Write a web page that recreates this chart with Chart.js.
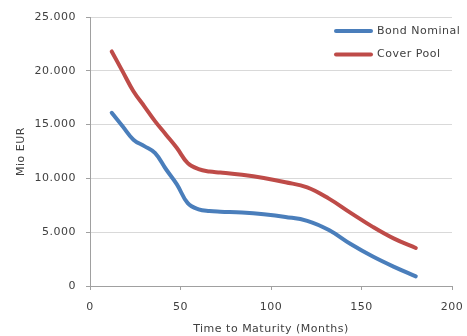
<!DOCTYPE html>
<html>
<head>
<meta charset="utf-8">
<script src="https://cdn.jsdelivr.net/npm/chart.js@4"></script>
<style>
    body { margin: 0; background: #ffffff; }
    #wrap { width: 467px; height: 336px; }
</style>
</head>
<body>
<div id="wrap"><canvas id="myChart"></canvas></div>
<script>
// months to maturity and outstanding amounts (Mio EUR)
const months = [12, 18, 24, 30, 36, 42, 48, 54, 60, 66, 72, 84, 96, 108, 120, 132, 144, 156, 168, 180];
const bondNominal = [16100, 14850, 13600, 13000, 12350, 10850, 9450, 7700, 7130, 6970, 6910, 6830, 6670, 6420, 6060, 5200, 3900, 2760, 1780, 900];
const coverPool = [21800, 19950, 18100, 16700, 15300, 14060, 12820, 11420, 10860, 10640, 10550, 10330, 10030, 9640, 9170, 8120, 6800, 5520, 4400, 3530];
const seriesNames = ["Bond Nominal", "Cover Pool"];
const xTitle = "Time to Maturity (Months)";
const yTitle = "Mio EUR";

const textColor = "#404040";
const axisColor = "#a0a0a0";
const fontFamily = "'DejaVu Sans', Verdana, sans-serif";

function toPoints(xs, ys)
{
    return xs.map((x, i) => ({ x: x, y: ys[i] }));
}

// 25000 -> "25.000"
function formatThousands(v)
{
    return String(v).replace(/\B(?=(\d{3})+(?!\d))/g, ".");
}

// excel style legend drawn inside the plot area, top right
const insideLegend = {
    id: "insideLegend",
    afterDraw(chart)
    {
        const ctx = chart.ctx;
        ctx.save();
        ctx.font = "11px " + fontFamily;
        ctx.textBaseline = "middle";
        ctx.textAlign = "left";
        chart.data.datasets.forEach((ds, i) =>
        {
            const y = 31 + i * 23.5;
            ctx.strokeStyle = ds.borderColor;
            ctx.lineWidth = 4;
            ctx.lineCap = "round";
            ctx.beginPath();
            ctx.moveTo(336, y);
            ctx.lineTo(371, y);
            ctx.stroke();
            ctx.fillStyle = textColor;
            ctx.fillText(ds.label, 377, y);
        });
        ctx.restore();
    }
};

// a bit of tracking like the original text rendering
const tracking = {
    id: "tracking",
    beforeDraw(chart)
    {
        chart.ctx.letterSpacing = "0.5px";
    }
};

function createGraph()
{
    const ctx = document.getElementById("myChart");

    const data = {
        datasets: [
            {
                label: seriesNames[0],
                data: toPoints(months, bondNominal),
                borderColor: "#4a7ebb",
                borderWidth: 4,
                borderCapStyle: "round",
                pointRadius: 0,
                tension: 0.4,
                fill: false
            },
            {
                label: seriesNames[1],
                data: toPoints(months, coverPool),
                borderColor: "#be4b48",
                borderWidth: 4,
                borderCapStyle: "round",
                pointRadius: 0,
                tension: 0.4,
                fill: false
            }
        ]
    };

    new Chart(ctx, {
        type: "line",
        data: data,
        options: {
            responsive: true,
            maintainAspectRatio: false,
            animation: false,
            devicePixelRatio: 1,
            layout: { padding: { left: 14, right: 15, top: 17, bottom: 0 } },
            font: { family: fontFamily, size: 11 },
            color: textColor,
            plugins: {
                legend: { display: false },
                tooltip: { enabled: false }
            },
            scales: {
                x: {
                    type: "linear",
                    min: 0,
                    max: 200,
                    ticks: { stepSize: 50, color: textColor, padding: 11, font: { family: fontFamily, size: 11 } },
                    grid: { drawOnChartArea: false, tickLength: 4, tickColor: axisColor },
                    border: { color: axisColor, width: 1 },
                    title: { display: true, text: xTitle, color: textColor, padding: { top: 0, bottom: 0 }, font: { family: fontFamily, size: 11 } },
                    afterFit(scale)
                    {
                        scale.height = 50;
                        scale.paddingLeft = 0;
                        scale.paddingRight = 0;
                    }
                },
                y: {
                    min: 0,
                    max: 25000,
                    ticks: {
                        stepSize: 5000,
                        color: textColor,
                        padding: 10,
                        font: { family: fontFamily, size: 11 },
                        callback: (v) => formatThousands(v)
                    },
                    grid: { color: "#d9d9d9", tickLength: 4, tickColor: axisColor },
                    border: { color: axisColor, width: 1 },
                    title: { display: true, text: yTitle, color: textColor, padding: { top: 1, bottom: 0 }, font: { family: fontFamily, size: 11 } },
                    afterFit(scale)
                    {
                        scale.width = 76;
                        scale.paddingTop = 0;
                        scale.paddingBottom = 0;
                    }
                }
            }
        },
        plugins: [tracking, insideLegend]
    });
}
createGraph();
</script>
</body>
</html>
